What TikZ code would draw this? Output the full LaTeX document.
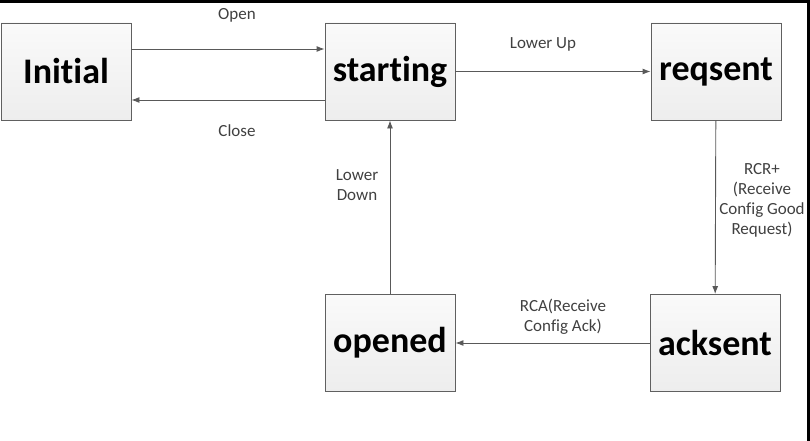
\documentclass[tikz,border=0pt]{standalone}
\usepackage{fontspec}
\setmainfont[RawFeature={-liga;-dlig}]{Carlito}
\usetikzlibrary{arrows.meta}

\begin{document}
\begin{tikzpicture}[x=1pt,y=-1pt,
  state/.style={rectangle, draw=gray!75!black, line width=0.9pt,
    top color=white!96!gray, bottom color=gray!14,
    minimum width=130pt, minimum height=97pt, inner sep=0pt,
    font=\fontsize{36}{40}\selectfont\bfseries},
  lbl/.style={text=black!75, align=center,
    font=\fontsize{17}{20}\selectfont},
  trans/.style={draw=black!65, line width=0.9pt,
    -{Latex[length=8pt,width=6pt]}}]
\useasboundingbox (0,0) rectangle (810,441);
\fill[black] (0,0) rectangle (810,3);
\fill[black] (807,0) rectangle (810,441);

\node (initial) at (66,71.5) [state] {Initial};
\node (starting) at (390,71.5) [state] {starting};
\node (reqsent) at (716,71.5) [state] {reqsent};
\node (acksent) at (715,343) [state] {acksent};
\node (opened) at (390,343) [state] {opened};

\draw[trans] ([yshift=22.5pt]initial.east) -- ([yshift=22.5pt]starting.west);
\draw[trans] ([yshift=-28.5pt]starting.west) -- ([yshift=-28.5pt]initial.east);
\draw[trans] (starting) -- (reqsent);
\draw[trans] (reqsent) -- (acksent);
\draw[trans] (acksent) -- (opened);
\draw[trans] (opened) -- (starting);

\node (open) at (237,15) [lbl] {Open};
\node (close) at (237,131) [lbl] {Close};
\node (lowerup) at (543,44) [lbl] {Lower Up};
\node (rcr) at (762,200) [lbl] {RCR+\\(Receive\\Config Good\\Request)};
\node (rca) at (563,316.5) [lbl] {RCA(Receive\\Config Ack)};
\node (lowerdown) at (357,185) [lbl] {Lower\\Down};
\end{tikzpicture}
\end{document}
